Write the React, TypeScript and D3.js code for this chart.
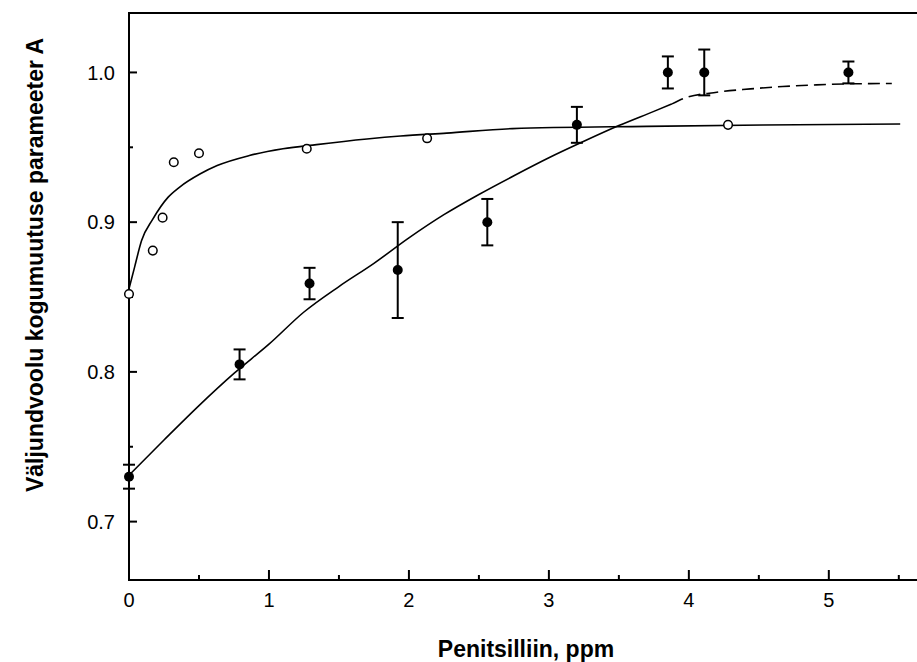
import React from "react";
import * as d3 from "d3";

// Filled-circle series (with error bars)
const filledX = [0, 0.79, 1.29, 1.92, 2.56, 3.2, 3.85, 4.11, 5.14];
const filledY = [0.73, 0.805, 0.859, 0.868, 0.9, 0.965, 1.0, 1.0, 1.0];
const filledErr = [0.008, 0.01, 0.0105, 0.032, 0.0155, 0.012, 0.0107, 0.0153, 0.0073];

// Open-circle series
const openX = [0, 0.17, 0.24, 0.32, 0.5, 1.27, 2.13, 4.28];
const openY = [0.852, 0.881, 0.903, 0.94, 0.946, 0.949, 0.956, 0.965];

// Fitted curve for filled series (solid part, then dashed extension)
const fitSolidX = [0, 0.25, 0.5, 0.75, 1.0, 1.25, 1.5, 1.75, 2.0, 2.25, 2.5, 2.75, 3.0, 3.25, 3.5, 3.75, 3.88];
const fitSolidY = [0.731, 0.7545, 0.7775, 0.799, 0.8185, 0.84, 0.857, 0.8725, 0.8895, 0.905, 0.9185, 0.931, 0.943, 0.954, 0.9645, 0.974, 0.979];
const fitDashX = [3.88, 3.96, 4.2, 4.44, 4.67, 4.91, 5.15, 5.45];
const fitDashY = [0.979, 0.9825, 0.9868, 0.989, 0.9906, 0.9917, 0.9924, 0.9926];

// Fitted curve for open series
const fitOpenX = [0, 0.04, 0.09, 0.17, 0.28, 0.36, 0.51, 0.63, 0.86, 1.1, 1.34, 1.7, 1.94, 2.27, 2.74, 3.7, 4.53, 5.51];
const fitOpenY = [0.8555, 0.87, 0.8877, 0.902, 0.9167, 0.9233, 0.9323, 0.9378, 0.9445, 0.949, 0.9518, 0.9555, 0.9575, 0.9595, 0.9625, 0.964, 0.9649, 0.9656];

const xMajorTicks = [0, 1, 2, 3, 4, 5];
const xMinorTicks = [0.5, 1.5, 2.5, 3.5, 4.5, 5.5];
const yMajorTicks = [0.7, 0.8, 0.9, 1.0];
const yMinorTicks = [0.75, 0.85, 0.95];

const xTitle = "Penitsilliin, ppm";
const yTitle = "Väljundvoolu kogumuutuse parameeter A";

const W = 917;
const H = 662;
const L = 129;
const R = 917;
const T = 13;
const B = 580;

export default function App() {
  const x = d3.scaleLinear().domain([0, 5.63]).range([L, R]);
  const y = d3.scaleLinear().domain([0.661, 1.0397]).range([B, T]);

  const line = d3
    .line<[number, number]>()
    .x((d) => x(d[0]))
    .y((d) => y(d[1]))
    .curve(d3.curveMonotoneX);

  const zip = (a: number[], b: number[]) => a.map((v, i) => [v, b[i]] as [number, number]);

  const font = "Arial, 'Liberation Sans', Helvetica, sans-serif";

  return (
    <svg
      width={W}
      height={H}
      style={{ position: "absolute", left: 0, top: 0, background: "#fff" }}
      fontFamily={font}
    >
      <rect x={0} y={0} width={W} height={H} fill="#fff" />
      {/* frame */}
      <line x1={L} y1={T} x2={R} y2={T} stroke="#000" strokeWidth={2} />
      <line x1={L} y1={T - 1} x2={L} y2={B + 1} stroke="#000" strokeWidth={2} />
      <line x1={L - 1} y1={B} x2={R} y2={B} stroke="#000" strokeWidth={2} />

      {/* x ticks */}
      {xMajorTicks.map((t) => (
        <g key={"xm" + t}>
          <line x1={x(t)} x2={x(t)} y1={B} y2={B - 10} stroke="#000" strokeWidth={2} />
          <text x={x(t)} y={607} textAnchor="middle" fontSize={20} fill="#000">
            {t}
          </text>
        </g>
      ))}
      {xMinorTicks.map((t) => (
        <line key={"xn" + t} x1={x(t)} x2={x(t)} y1={B} y2={B - 5} stroke="#000" strokeWidth={2} />
      ))}

      {/* y ticks */}
      {yMajorTicks.map((t) => (
        <g key={"ym" + t}>
          <line x1={L} x2={L + 8} y1={y(t)} y2={y(t)} stroke="#000" strokeWidth={2} />
          <text x={115} y={y(t)} dy="0.36em" textAnchor="end" fontSize={20} fill="#000">
            {t.toFixed(1)}
          </text>
        </g>
      ))}
      {yMinorTicks.map((t) => (
        <line key={"yn" + t} x1={L} x2={L + 4} y1={y(t)} y2={y(t)} stroke="#000" strokeWidth={2} />
      ))}

      {/* axis titles */}
      <text x={526} y={657} textAnchor="middle" fontSize={23} fontWeight="bold" fill="#000">
        {xTitle}
      </text>
      <text
        transform={`translate(43, 265) rotate(-90)`}
        textAnchor="middle"
        fontSize={23}
        fontWeight="bold"
        fill="#000"
      >
        {yTitle}
      </text>

      {/* fitted curves */}
      <path d={line(zip(fitOpenX, fitOpenY)) || ""} fill="none" stroke="#000" strokeWidth={1.6} />
      <path d={line(zip(fitSolidX, fitSolidY)) || ""} fill="none" stroke="#000" strokeWidth={1.6} />
      <path
        d={line(zip(fitDashX, fitDashY)) || ""}
        fill="none"
        stroke="#000"
        strokeWidth={1.6}
        strokeDasharray="12,6"
      />

      {/* error bars */}
      {filledX.map((v, i) => {
        const cx = x(v);
        const y1 = y(filledY[i] + filledErr[i]);
        const y2 = y(filledY[i] - filledErr[i]);
        return (
          <g key={"e" + i} stroke="#000" strokeWidth={2}>
            <line x1={cx} x2={cx} y1={y1} y2={y2} />
            <line x1={cx - 6} x2={cx + 6} y1={y1} y2={y1} />
            <line x1={cx - 6} x2={cx + 6} y1={y2} y2={y2} />
          </g>
        );
      })}

      {/* filled points */}
      {filledX.map((v, i) => (
        <circle key={"f" + i} cx={x(v)} cy={y(filledY[i])} r={5} fill="#000" />
      ))}

      {/* open points */}
      {openX.map((v, i) => (
        <circle
          key={"o" + i}
          cx={x(v)}
          cy={y(openY[i])}
          r={4.3}
          fill="#fff"
          stroke="#000"
          strokeWidth={1.5}
        />
      ))}
    </svg>
  );
}
